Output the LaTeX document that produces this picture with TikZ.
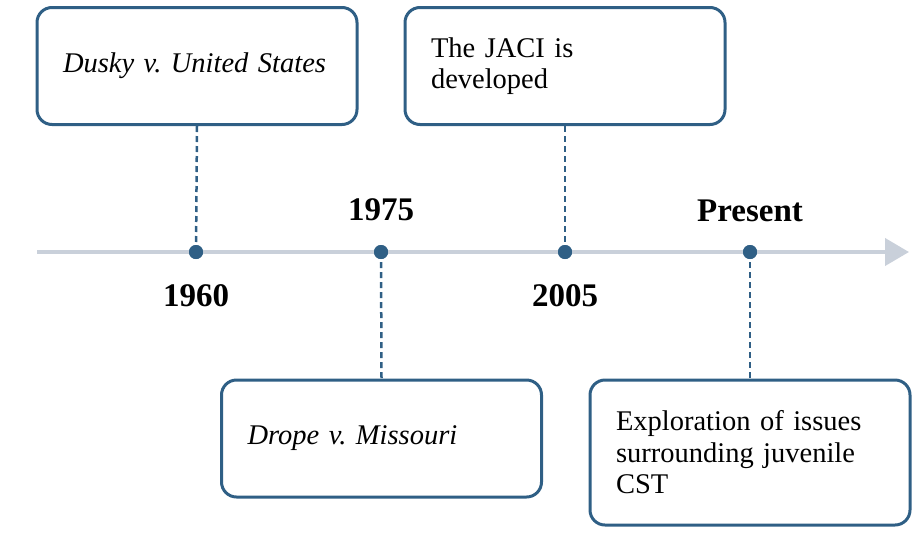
\documentclass[tikz,border=0pt]{standalone}
\usepackage{fontspec}
\setmainfont{Liberation Serif}
\usetikzlibrary{arrows.meta}
\definecolor{boxblue}{HTML}{2F5F85}
\definecolor{axisgray}{HTML}{C9D0DA}
\frenchspacing
\tikzset{
  eventbox/.style={draw=boxblue, line width=3pt, rounded corners=15pt, fill=white,
    minimum width=320pt, inner xsep=26pt, text width=268pt, align=left,
    font=\fontsize{28.5}{31.5}\selectfont},
  yearlabel/.style={font=\fontsize{33}{36}\selectfont\bfseries, inner sep=0pt},
  tick/.style={circle, fill=boxblue, inner sep=0pt, minimum size=14pt},
  leader/.style={draw=boxblue, line width=2.5pt, dash pattern=on 6pt off 4pt},
  axis/.style={draw=axisgray, line width=4pt, -{Triangle[length=24pt,width=27pt]}}
}
\begin{document}
\begin{tikzpicture}[x=1pt,y=-1pt]
\useasboundingbox (0,0) rectangle (917,544);
% timeline
\coordinate (tstart) at (37,252);
\coordinate (tend) at (909,252);
\draw[axis] (tstart) -- (tend);
% boxes
\node[eventbox, minimum height=117pt] (b1) at (197,66) {\itshape Dusky v. United States};
\node[eventbox, minimum height=117pt] (b2) at (565,66) {The JACI is\\developed};
\node[eventbox, minimum height=117pt] (b3) at (381.5,438.5) {\itshape Drope v. Missouri};
\node[eventbox, minimum height=145pt] (b4) at (750,452.5) {Exploration of issues\\surrounding juvenile\\CST};
% dots
\node[tick] (d1) at (196,252) {};
\node[tick] (d2) at (381,252) {};
\node[tick] (d3) at (565,252) {};
\node[tick] (d4) at (750,252) {};
% leaders
\draw[leader] (b1.south) -- (d1.center);
\draw[leader] (d2.center) -- (b3.north);
\draw[leader] (b2.south) -- (d3.center);
\draw[leader] (d4.center) -- (b4.north);
\node[tick] at (d1) {};
\node[tick] at (d2) {};
\node[tick] at (d3) {};
\node[tick] at (d4) {};
% labels
\node[yearlabel] (y1) at (196,296) {1960};
\node[yearlabel] (y2) at (381,210) {1975};
\node[yearlabel] (y3) at (565,296) {2005};
\node[yearlabel] (y4) at (750,211) {Present};
\end{tikzpicture}
\end{document}
